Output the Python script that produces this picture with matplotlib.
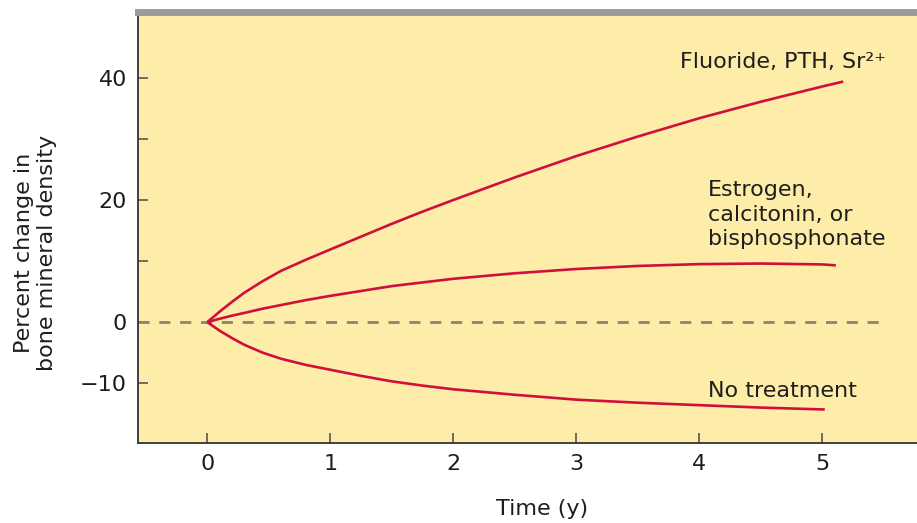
import matplotlib
matplotlib.use("Agg")
import matplotlib.pyplot as plt

plt.rcParams['font.family'] = ['DejaVu Sans']

# data (years, percent change)
years = [0, 0.1, 0.2, 0.3, 0.45, 0.6, 0.8, 1.0, 1.25, 1.5, 1.75, 2.0,
         2.5, 3.0, 3.5, 4.0, 4.5, 5.0]
fluoride_x = years + [5.17]
fluoride = [0, 1.7, 3.3, 4.8, 6.7, 8.4, 10.2, 11.9, 14.0, 16.1, 18.1, 20.0,
            23.7, 27.2, 30.4, 33.4, 36.1, 38.6, 39.4]
estrogen_x = years + [5.11]
estrogen = [0, 0.55, 1.05, 1.5, 2.2, 2.8, 3.6, 4.3, 5.1, 5.9, 6.5, 7.1,
            8.0, 8.7, 9.2, 9.5, 9.6, 9.45, 9.3]
no_treat_x = years + [5.02]
no_treat = [0, -1.4, -2.6, -3.7, -5.0, -6.0, -7.0, -7.8, -8.8, -9.7, -10.4, -11.0,
            -11.9, -12.7, -13.2, -13.6, -14.0, -14.3, -14.3]

x_ticks = [0, 1, 2, 3, 4, 5]
y_ticks = [-10, 0, 10, 20, 30, 40]
y_labels = ['\u221210', '0', '', '20', '', '40']

bg = '#FDEDA8'
red = '#D0103C'
txt = '#1E1E1E'
fs = 16

fig = plt.figure(figsize=(9.17, 5.23), dpi=100)
ax = fig.add_axes([138/917, 1 - 443/523, 779/917, 431/523])
ax.set_facecolor(bg)

# dashed zero reference
ax.axhline(0, xmin=0, xmax=0.959, color='#8A8570', lw=2, dashes=(4, 3.5))

for xs, ys in [(fluoride_x, fluoride), (estrogen_x, estrogen), (no_treat_x, no_treat)]:
    ax.plot(xs, ys, color=red, lw=1.9, solid_joinstyle='round', solid_capstyle='butt')

ax.set_xlim(-0.563, 5.77)
ax.set_ylim(-19.8, 50.8)
ax.set_xticks(x_ticks)
ax.set_yticks(y_ticks)
ax.set_yticklabels(y_labels)
ax.tick_params(direction='in', length=7, width=1.2, color='#555555',
               labelsize=fs, labelcolor=txt)
ax.tick_params(axis='y', pad=8)
ax.tick_params(axis='x', pad=8)

ax.spines['right'].set_visible(False)
ax.spines['top'].set_color('#9B9B9B')
ax.spines['top'].set_linewidth(5)
for s in ['left', 'bottom']:
    ax.spines[s].set_color('#333333')
    ax.spines[s].set_linewidth(1.3)

ax.text(3.84, 41.6, 'Fluoride, PTH, Sr\u00b2\u207a', fontsize=fs,
        color=txt, va='baseline', ha='left')
ax.text(4.07, 12.6, 'Estrogen,\ncalcitonin, or\nbisphosphonate', fontsize=fs,
        color=txt, va='baseline', ha='left', linespacing=1.28)
ax.text(4.07, -12.3, 'No treatment', fontsize=fs, color=txt,
        va='baseline', ha='left')

fig.text(35.5/917, 1 - 253/523, 'Percent change in\nbone mineral density',
         rotation=90, ha='center', va='center', fontsize=fs, color=txt,
         multialignment='center', linespacing=1.15)
fig.text(542/917, 1 - 509/523, 'Time (y)', ha='center', va='center',
         fontsize=fs, color=txt)

fig.savefig('out.png', dpi=100)
